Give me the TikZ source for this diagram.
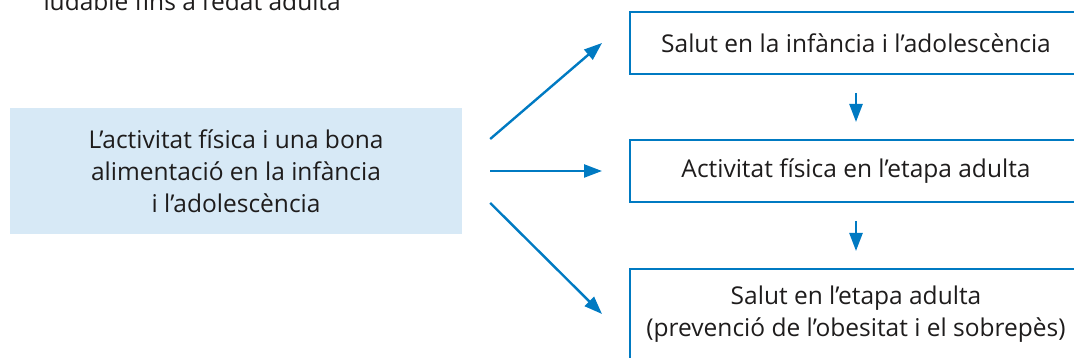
\documentclass[tikz,border=0pt]{standalone}
\usepackage{fontspec}
\setmainfont{Open Sans}
\usetikzlibrary{positioning,arrows.meta}
\definecolor{boxblue}{RGB}{0,122,194}
\definecolor{boxfill}{RGB}{215,233,246}
\definecolor{textgray}{RGB}{30,28,28}

\begin{document}
\begin{tikzpicture}[x=1pt,y=1pt,font=\fontsize{24.5}{32}\selectfont,text=textgray,
    box/.style={draw=boxblue,line width=2pt,minimum width=452pt,minimum height=62pt,align=center},
    flow/.style={draw=boxblue,line width=2.4pt,-{Triangle[length=18pt,width=13pt]}}]
    \useasboundingbox (0,0) rectangle (1074,358);
    \node[anchor=base west] (caption) at (40,347) {ludable fins a l’edat adulta};
    \node[fill=boxfill,minimum width=452pt,minimum height=126pt,align=center] (start) at (236,187)
        {L’activitat física i una bona\\alimentació en la infància\\i l’adolescència};
    \node[box] (childhood) at (856,315) {Salut en la infància i l’adolescència};
    \node[box] (adultact) [below=64pt of childhood] {Activitat física en l’etapa adulta};
    \node[box,minimum height=90pt] (adulthealth) [below=65pt of adultact]
        {Salut en l’etapa adulta\\(prevenció de l’obesitat i el sobrepès)};
    \path
    ([xshift=28pt,yshift=32pt]start.east)  edge [flow] ([xshift=-27pt]childhood.west)
    ([xshift=28pt]start.east)              edge [flow] ([xshift=-27pt]adultact.west)
    ([xshift=28pt,yshift=-32pt]start.east) edge [flow] ([xshift=-27pt]adulthealth.west)

    (childhood) edge [flow,shorten <=18pt,shorten >=17pt] (adultact)
    (adultact)  edge [flow,shorten <=18pt,shorten >=17pt] (adulthealth)
    ;
\end{tikzpicture}
\end{document}
